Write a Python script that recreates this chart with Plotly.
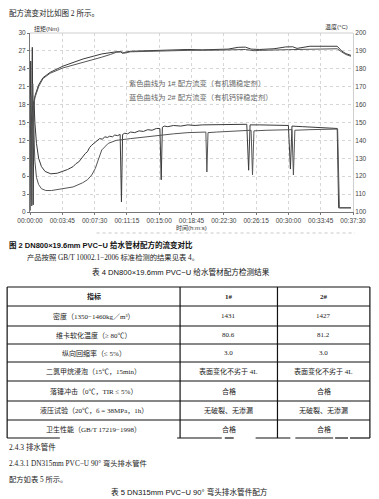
import plotly.graph_objects as go

# ---------------- data ----------------
tick_seconds = [0, 225, 450, 675, 900, 1125, 1350, 1575, 1800, 2025, 2250]
tick_labels = ["00:00:00", "00:03:45", "00:07:30", "00:11:15", "00:15:00", "00:18:45",
               "00:22:30", "00:26:15", "00:30:00", "00:33:45", "00:37:30"]

# torque, formula 1# (Nm)
torque1_t = [0, 5, 10, 16, 22, 28, 34, 45, 60, 80, 105, 145, 190, 230, 260, 300, 320, 340, 355,
             367, 385, 400, 415, 430, 445, 460, 485, 505, 520, 540, 555, 575, 590, 610, 628, 637,
             645, 660, 680, 700, 730, 760, 790, 820, 850, 880, 905, 914, 922, 935, 960, 1000,
             1050, 1100, 1150, 1200, 1300, 1400, 1510, 1523, 1533, 1600, 1700, 1800, 1814, 1825,
             1900, 2000, 2100, 2140, 2150, 2160, 2236]
torque1_v = [0.3, 25.3, 2.0, 27.6, 1.2, 18.5, 15.0, 11.5, 9.0, 7.6, 6.8, 6.4, 6.5, 6.8, 7.1, 7.6,
             8.1, 8.4, 8.9, 9.2, 9.8, 10.1, 10.8, 11.2, 11.5, 11.9, 12.3, 12.2, 12.6, 12.5, 12.7,
             12.6, 12.9, 12.8, 13.0, 1.7, 13.0, 13.2, 13.1, 13.4, 13.3, 13.6, 13.5, 13.8, 13.7,
             14.0, 14.0, 5.4, 14.2, 14.4, 14.3, 14.5, 14.4, 14.6, 14.5, 14.6, 14.6, 14.7, 14.7,
             7.0, 14.6, 14.6, 14.5, 14.5, 7.2, 14.4, 14.3, 14.2, 14.1, 14.0, 0.7, 0.7, 0.7]

# torque, formula 2# (Nm)
torque2_t = [0, 6, 12, 19, 26, 34, 45, 60, 80, 110, 150, 200, 260, 300, 367, 400, 430, 455, 475,
             500, 545, 600, 700, 800, 900, 1000, 1100, 1225, 1232, 1240, 1300, 1400, 1540, 1550,
             1560, 1650, 1825, 1835, 1845, 1950, 2100, 2143, 2155, 2236]
torque2_v = [0.2, 19.5, 1.0, 21.5, 14.0, 8.5, 5.8, 4.6, 3.9, 3.6, 3.6, 3.8, 4.0, 4.2, 4.9, 5.4,
             6.2, 7.3, 8.7, 10.4, 11.5, 12.0, 12.3, 12.6, 12.9, 13.1, 13.3, 13.4, 6.7, 13.3, 13.4,
             13.5, 13.7, 6.2, 13.6, 13.7, 13.8, 6.2, 13.7, 13.8, 13.9, 13.9, 0.7, 0.7]

# temperature, formula 1# (°C)
temp1_t = [0, 10, 20, 35, 60, 90, 140, 230, 300, 370, 440, 500, 600, 630, 645, 660, 700, 850,
           1000, 1100, 1200, 1380, 1450, 1500, 1540, 1600, 1700, 1780, 1830, 1860, 1950, 2100,
           2140, 2170, 2200, 2236]
temp1_v = [140, 150, 158, 165, 171, 175, 178, 181.5, 183.5, 185.5, 187, 188.3, 189.5, 189.6,
           188.6, 189.2, 189.8, 190.3, 190.5, 190.8, 190.6, 191.0, 192.0, 192.1, 191.0, 190.8,
           191.2, 192.2, 192.3, 191.4, 192.6, 192.8, 192.6, 190.0, 188.5, 187.5]

# temperature, formula 2# (°C)
temp2_t = [0, 10, 20, 35, 60, 90, 140, 230, 300, 370, 440, 500, 560, 600, 640, 655, 700, 900,
           1100, 1300, 1500, 1560, 1600, 1800, 2000, 2140, 2170, 2200, 2236]
temp2_v = [138, 149, 157, 164, 170, 174.5, 177.5, 180.5, 182, 183.5, 185, 186.5, 188, 189.2,
           189.5, 188.7, 189.5, 190.0, 190.3, 190.4, 190.8, 190.1, 190.3, 190.7, 191.0, 191.2,
           189.5, 188.0, 187.0]

table_rows = [
    ["指标", "1#", "2#"],
    ["密度（1350−1460kg／m³）", "1431", "1427"],
    ["维卡软化温度（≥ 80℃）", "80.6", "81.2"],
    ["纵向回缩率（≤ 5%）", "3.0", "3.0"],
    ["二氯甲烷浸泡（15℃，15min）", "表面变化不劣于 4L", "表面变化不劣于 4L"],
    ["落锤冲击（0℃，TIR ≤ 5%）", "合格", "合格"],
    ["液压试验（20℃，б = 38MPa，1h）", "无破裂、无渗漏", "无破裂、无渗漏"],
    ["卫生性能（GB/T 17219−1998）", "合格", "合格"],
]

# ---------------- layout helpers (pixel -> paper) ----------------
L, R, T, B = 30, 355, 33, 212
def px(x):
    return (x - L) / (R - L)
def py(y):
    return (B - y) / (B - T)

SANS = "Liberation Sans, Noto Sans CJK SC"
SERIF = "Liberation Serif, Noto Sans CJK SC"

fig = go.Figure()
fig.add_trace(go.Scatter(x=torque1_t, y=torque1_v, mode="lines",
                         line=dict(color="#3a3a3a", width=1), showlegend=False))
fig.add_trace(go.Scatter(x=torque2_t, y=torque2_v, mode="lines",
                         line=dict(color="#555555", width=1), showlegend=False))
fig.add_trace(go.Scatter(x=temp1_t, y=temp1_v, mode="lines", yaxis="y2",
                         line=dict(color="#3a3a3a", width=1), showlegend=False))
fig.add_trace(go.Scatter(x=temp2_t, y=temp2_v, mode="lines", yaxis="y2",
                         line=dict(color="#555555", width=1), showlegend=False))

axis_font = dict(family=SANS, size=6.5, color="#444")
fig.update_layout(
    width=379, height=499,
    margin=dict(l=L, r=379 - R, t=T, b=499 - B),
    paper_bgcolor="white", plot_bgcolor="white",
    xaxis=dict(range=[0, 2250], tickvals=tick_seconds, ticktext=tick_labels,
               showgrid=True, gridcolor="#d6d6d6", griddash="dot", gridwidth=1,
               showline=True, linecolor="#777", linewidth=1, zeroline=False,
               ticks="outside", ticklen=2, tickcolor="#777", tickfont=axis_font),
    yaxis=dict(range=[0, 30], tickvals=[0, 3, 6, 9, 12, 15, 18, 21, 24, 27, 30],
               showgrid=True, gridcolor="#d6d6d6", griddash="dot", gridwidth=1,
               showline=True, linecolor="#777", linewidth=1, zeroline=False,
               ticks="outside", ticklen=2, tickcolor="#777", tickfont=axis_font),
    yaxis2=dict(range=[100, 200], tickvals=[100, 110, 120, 130, 140, 150, 160, 170, 180, 190, 200],
                overlaying="y", side="right", showgrid=False, zeroline=False,
                showline=True, linecolor="#cfcfcf", linewidth=1,
                ticks="", tickfont=axis_font),
)

shapes = []
# light frame on top
shapes.append(dict(type="line", xref="paper", yref="paper", x0=0, x1=1, y0=1, y1=1,
                   line=dict(color="#cfcfcf", width=1)))
# dotted line under axis title
shapes.append(dict(type="line", xref="paper", yref="paper", x0=px(97), x1=px(357),
                   y0=py(233), y1=py(233), line=dict(color="#c8c8c8", width=1, dash="dot")))

# table lines
col_x = [7, 181, 279, 372]
row_y = [287, 306, 326, 344, 362, 381, 401, 420, 438]
for i, yy in enumerate(row_y[:-1]):
    shapes.append(dict(type="line", xref="paper", yref="paper", x0=px(col_x[0]), x1=px(col_x[-1]),
                       y0=py(yy), y1=py(yy), line=dict(color="#111", width=1.2)))
bottom_segments = [(7, 60), (178, 223), (226, 235), (257, 292), (297, 335), (337, 350), (352, 372)]
for a, b in bottom_segments:
    shapes.append(dict(type="line", xref="paper", yref="paper", x0=px(a), x1=px(b),
                       y0=py(row_y[-1]), y1=py(row_y[-1]), line=dict(color="#111", width=1.2)))
for xx in col_x:
    shapes.append(dict(type="line", xref="paper", yref="paper", x0=px(xx), x1=px(xx),
                       y0=py(row_y[0]), y1=py(row_y[-1]), line=dict(color="#111", width=1.2)))

ann = []
def text(x, y, s, size=7.5, anchor="left", family=SERIF, color="#222", bold=False):
    if bold:
        s = "<b>" + s + "</b>"
    ann.append(dict(x=px(x), y=py(y), xref="paper", yref="paper", text=s, showarrow=False,
                    xanchor=anchor, yanchor="middle", font=dict(family=family, size=size, color=color)))

text(7, 13, "配方流变对比如图 2 所示。", size=7.5)
text(32, 29, "扭矩(Nm)", size=6, family=SANS, color="#333")
text(352, 27, "温度(°C)", size=6, family=SANS, color="#333", anchor="right")
text(128, 83, "紫色曲线为 1# 配方流变（有机锡稳定剂）", size=7.3, family=SANS, color="#666")
text(128, 97, "蓝色曲线为 2# 配方流变（有机钙锌稳定剂）", size=7.3, family=SANS, color="#666")
text(193, 228, "时间(h:m:s)", size=6, family=SANS, color="#333", anchor="center")
text(7, 245, "图 2 DN800×19.6mm PVC−U 给水管材配方的流变对比", size=7.5, family=SANS, color="#111", bold=True)
text(25, 257, "产品按照 GB/T 10002.1−2006 标准检测的结果见表 4。", size=7.3)
text(182, 272, "表 4 DN800×19.6mm PVC−U 给水管材配方检测结果", size=7.6, family=SANS, color="#111", anchor="center")

centers = [(col_x[i] + col_x[i + 1]) / 2 for i in range(3)]
for r, row in enumerate(table_rows):
    yc = (row_y[r] + row_y[r + 1]) / 2
    for c, cell in enumerate(row):
        text(centers[c], yc, cell, size=7, anchor="center", bold=(r == 0))

text(7, 447, "2.4.3 排水管件", size=7.5)
text(7, 463, "2.4.3.1 DN315mm PVC−U 90° 弯头排水管件", size=7.3)
text(7, 479, "配方如表 5 所示。", size=7.3)
text(190, 492, "表 5 DN315mm PVC−U 90° 弯头排水管件配方", size=7.6, family=SANS, color="#111", anchor="center")

fig.update_layout(shapes=shapes, annotations=ann)
fig.write_html("out.html", config={"displayModeBar": False},
               post_script="document.body.style.margin='0';document.body.style.padding='0';"
                           "document.documentElement.style.overflow='hidden';")
